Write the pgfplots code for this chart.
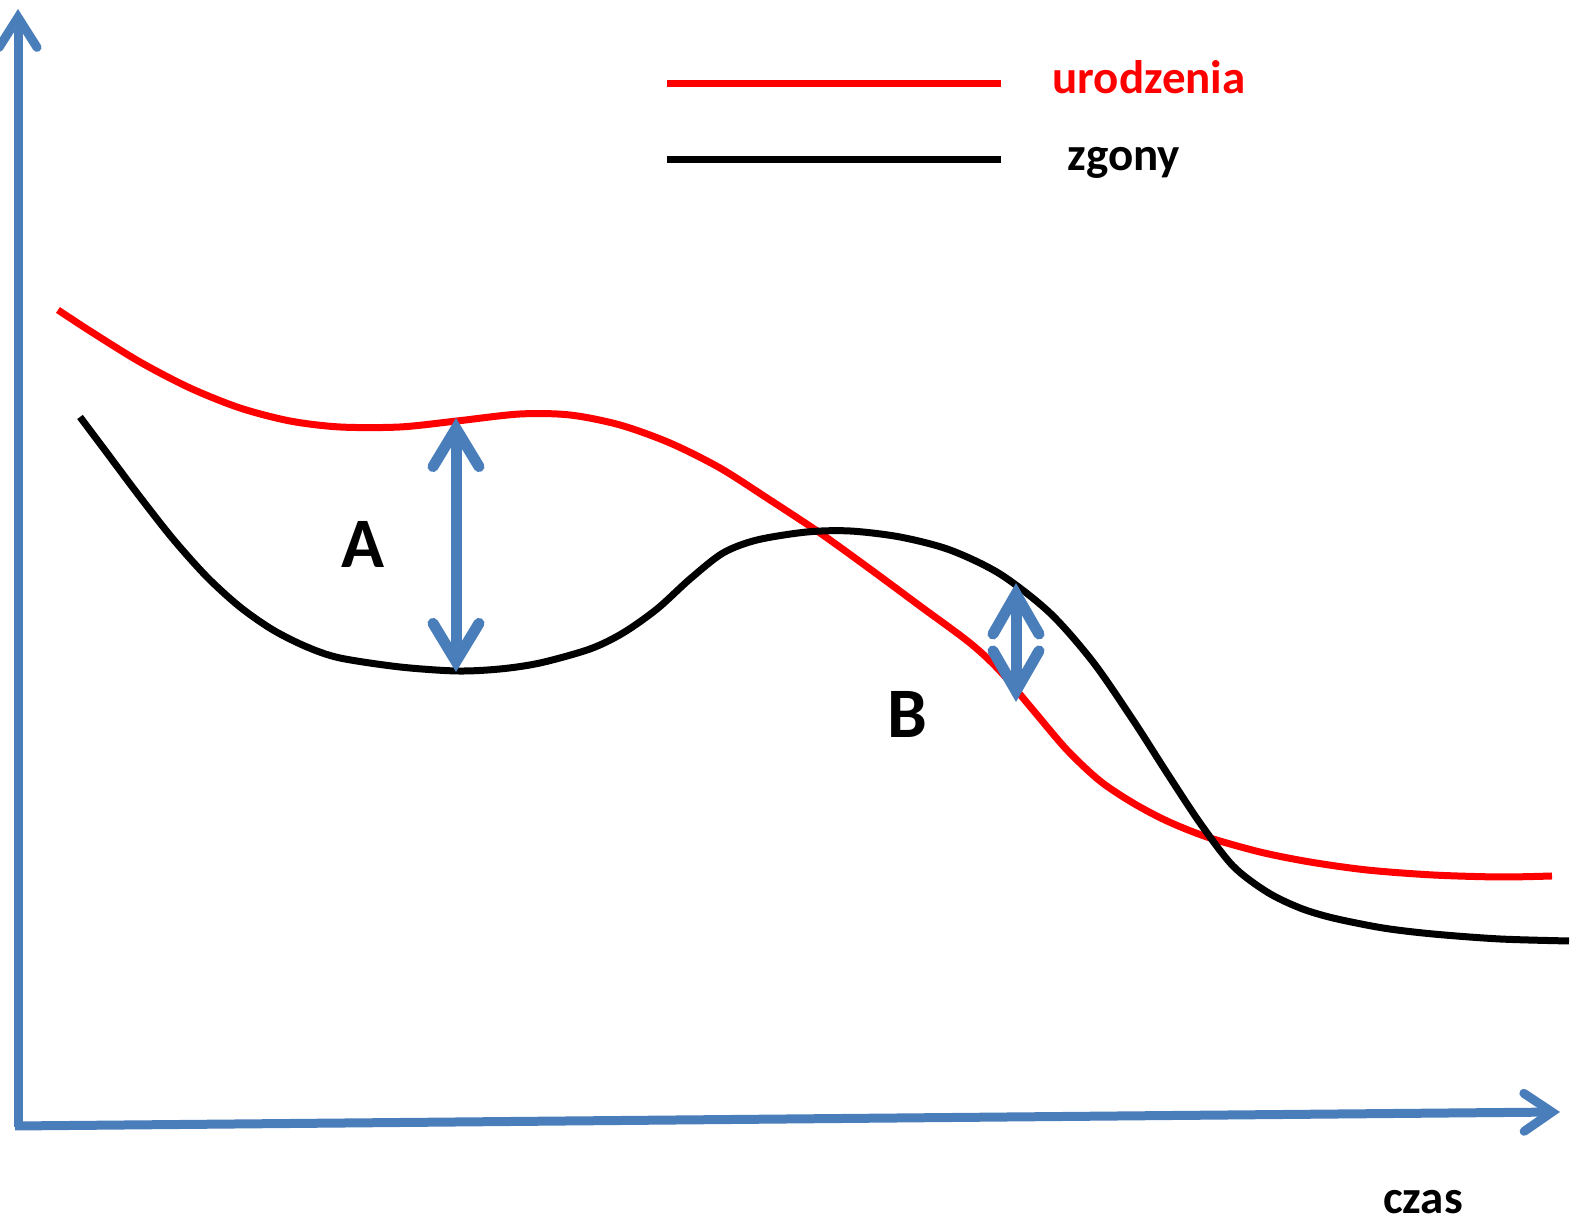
\documentclass[border=0pt]{standalone}
\usepackage{pgfplots}
\pgfplotsset{compat=1.18}
\usetikzlibrary{arrows.meta}
\usepackage{fontspec}
\setmainfont{Carlito}
\definecolor{axblue}{RGB}{74,126,187}
\begin{document}
\begin{tikzpicture}
\useasboundingbox (0,0) rectangle (787.5pt,612.5pt);
\begin{axis}[at={(0,0)}, anchor=south west, scale only axis,
  width=787.5pt, height=612.5pt,
  xmin=0, xmax=1575, ymin=0, ymax=1225,
  hide axis, clip=false]
% axes
\addplot[axblue, line width=4.5pt, line cap=butt,
  -{Straight Barb[length=15pt, width=19pt, line cap=round, line join=miter]}]
  coordinates {(18,98) (18,1216)};
\addplot[axblue, line width=4.5pt, line cap=butt,
  -{Straight Barb[length=14pt, width=19pt, line cap=round, line join=miter]}]
  coordinates {(15,99) (1560,113)};
% urodzenia
\addplot[red, line width=3.5pt, smooth] coordinates {
(58,915) (90,894) (140,863) (190,837) (240,817) (290,804) (340,798)
(400,798) (457,804) (520,811) (570,810) (620,800) (670,782) (720,757)
(770,725) (820,692) (870,656) (920,619) (970,582) (1000,554) (1033,515)
(1067,475) (1100,444) (1133,422) (1167,404) (1207,388) (1260,373)
(1310,363) (1367,355) (1433,350) (1500,348) (1552,349)};
% zgony
\addplot[black, line width=3.5pt, smooth] coordinates {
(80,808) (107,772) (140,728) (173,686) (207,648) (240,618) (273,595)
(307,578) (340,567) (400,558) (457,554) (500,556) (540,562) (590,576)
(623,592) (657,616) (690,646) (723,672) (757,685) (807,693) (850,694)
(900,688) (950,675) (1000,651) (1050,612) (1093,563) (1133,505)
(1167,452) (1200,402) (1233,359) (1267,333) (1300,317) (1333,307)
(1383,297) (1433,291) (1500,286) (1569,284)};
% legend lines
\addplot[red, line width=3.5pt] coordinates {(667,1141) (1001,1141)};
\addplot[black, line width=3.5pt] coordinates {(667,1065) (1001,1065)};
% A and B arrows
\addplot[axblue, line width=5.5pt,
  {Straight Barb[length=19pt, width=23pt, line cap=round, line join=miter]}-{Straight Barb[length=19pt, width=23pt, line cap=round, line join=miter]}]
  coordinates {(456,807) (456,553)};
\addplot[axblue, line width=5.5pt,
  {Straight Barb[length=20pt, width=23pt, line cap=round, line join=miter]}-{Straight Barb[length=20pt, width=23pt, line cap=round, line join=miter]}]
  coordinates {(1016,642) (1016,523)};
% texts
\node[anchor=base, text=red, font=\bfseries\fontsize{23.5}{28}\selectfont] at (axis cs:1149,1131) {urodzenia};
\node[anchor=base, text=black, font=\bfseries\fontsize{23.5}{28}\selectfont] at (axis cs:1124,1054) {zgony};
\node[anchor=base, text=black, font=\bfseries\fontsize{35.5}{40}\selectfont] at (axis cs:363,657) {A};
\node[anchor=base, text=black, font=\bfseries\fontsize{35.5}{40}\selectfont] at (axis cs:907,487) {B};
\node[anchor=base, text=black, font=\bfseries\fontsize{23.5}{28}\selectfont] at (axis cs:1423,11) {czas};
\end{axis}
\end{tikzpicture}
\end{document}
